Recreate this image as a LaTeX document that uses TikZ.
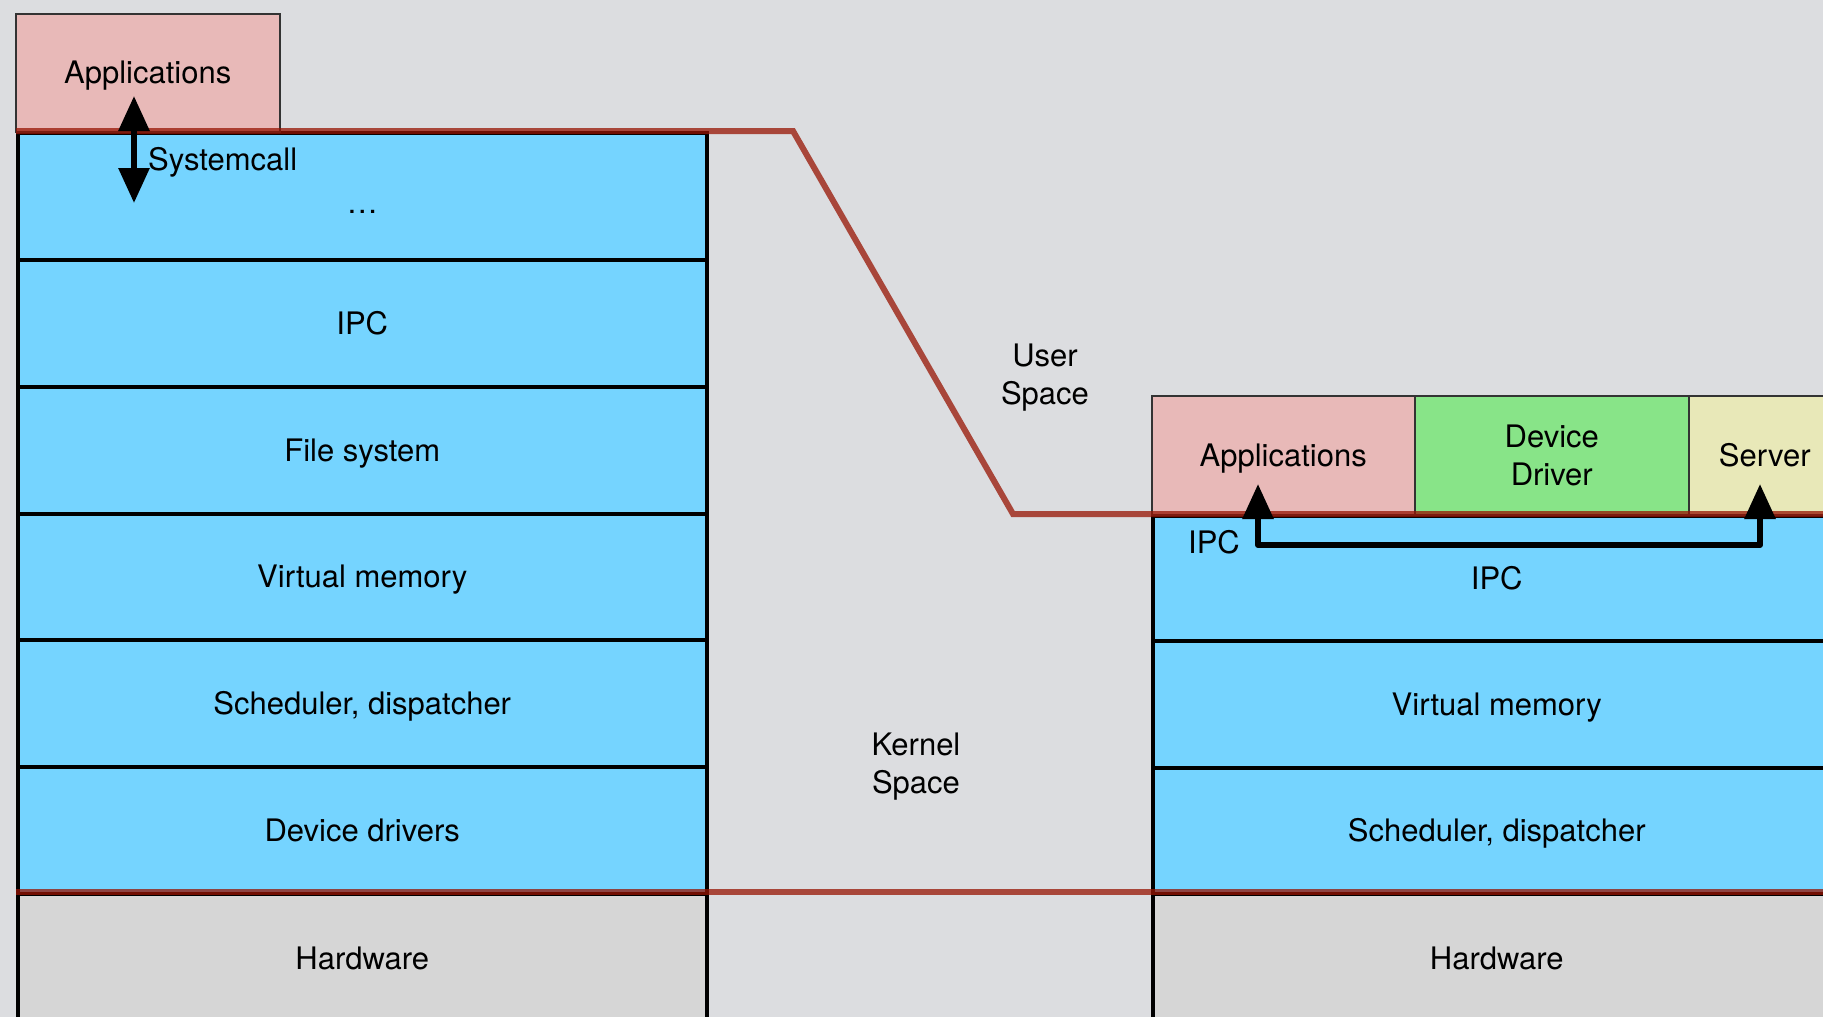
\documentclass[tikz,border=0pt]{standalone}
\usepackage{fontspec}
\setmainfont{TeX Gyre Heros}
\usetikzlibrary{arrows.meta,calc}
\definecolor{bg}{RGB}{220,221,224}
\definecolor{layer}{RGB}{117,212,255}
\definecolor{appc}{RGB}{232,185,184}
\definecolor{drvc}{RGB}{136,228,136}
\definecolor{srvc}{RGB}{232,232,184}
\definecolor{hwc}{RGB}{214,214,214}
\definecolor{boundary}{RGB}{151,20,3}
\begin{document}
\begin{tikzpicture}[x=1pt,y=-1pt,
  font=\fontsize{31}{38}\selectfont,
  oneline/.style={text height=22pt,text depth=0pt},
  layerbox/.style={draw=black,line width=3.5pt,fill=layer,inner sep=0pt,anchor=north west,oneline},
  hwbox/.style={draw=black,line width=3.5pt,fill=hwc,inner sep=0pt,anchor=north west},
  topbox/.style={draw=black!80,line width=1.5pt,inner sep=0pt,anchor=north west,align=center},
  boundaryline/.style={draw=boundary,line width=6pt,opacity=0.75,line join=miter},
  bigarrow/.style={line width=6pt,{Triangle[length=35pt,width=30pt]}-{Triangle[length=35pt,width=30pt]}},
  lbl/.style={inner sep=0pt,align=center}
]
\useasboundingbox (0,0) rectangle (1823,1017);
\clip (0,0) rectangle (1823,1017);
\fill[bg] (0,0) rectangle (1823,1017);

% left monolithic stack
\node[hwbox,minimum width=689pt,minimum height=150pt] (Lhw) at (16,892) {};
\node[lbl,oneline] at ($(Lhw.north)+(0,66)$) {Hardware};
\node[layerbox,minimum width=689pt,minimum height=127pt] (Ldev) at (16,765) {Device drivers};
\node[layerbox,minimum width=689pt,minimum height=127pt] (Lsch) at (16,638) {Scheduler, dispatcher};
\node[layerbox,minimum width=689pt,minimum height=126pt] (Lvm) at (16,512) {Virtual memory};
\node[layerbox,minimum width=689pt,minimum height=127pt] (Lfs) at (16,385) {File system};
\node[layerbox,minimum width=689pt,minimum height=127pt] (Lipc) at (16,258) {IPC};
\node[layerbox,minimum width=689pt,minimum height=127pt] (Ltop) at (16,131) {};
\node[lbl] (dots) at ($(Ltop.center)+(0,16)$) {\dots};
\node[topbox,oneline,fill=appc,minimum width=264pt,minimum height=118pt] (Lapp) at (15,13) {Applications};

% right microkernel stack
\node[hwbox,minimum width=688pt,minimum height=150pt] (Rhw) at (1151,892) {};
\node[lbl,oneline] at ($(Rhw.north)+(0,66)$) {Hardware};
\node[layerbox,minimum width=688pt,minimum height=126pt] (Rsch) at (1151,766) {Scheduler, dispatcher};
\node[layerbox,minimum width=688pt,minimum height=127pt] (Rvm) at (1151,639) {Virtual memory};
\node[layerbox,minimum width=688pt,minimum height=125pt] (Ripc) at (1151,514) {IPC};
\node[topbox,oneline,fill=appc,minimum width=263pt,minimum height=119pt] (Rapp) at (1151,395) {Applications};
\node[topbox,fill=drvc,minimum width=274pt,minimum height=119pt] (Rdrv) at (1414,395) {Device\\Driver};
\node[topbox,oneline,fill=srvc,minimum width=152pt,minimum height=119pt] (Rsrv) at (1688,395) {Server};

% user / kernel boundary
\draw[boundaryline] (16,131) -- (793,131) -- (1013,514) -- (1835,514);
\draw[boundaryline] (16,892) -- (1835,892);

% labels
\node[lbl] (user) at (1045,378) {User\\Space};
\node[lbl] (kernel) at (916,767) {Kernel\\Space};
\node[lbl,oneline,anchor=west] (sysl) at (148,159) {Systemcall};
\node[lbl,oneline] (ipcl) at (1214,542) {IPC};

% system call arrow
\coordinate (sysA) at (134,96);
\coordinate (sysB) at (134,203);
\draw[bigarrow] (sysA) -- (sysB);

% IPC arrow
\coordinate (ipcA) at (1258,484);
\coordinate (ipcB) at (1760,484);
\coordinate (ipcLine) at (1500,545);
\draw[bigarrow,line join=round] (ipcA) -- (ipcA |- ipcLine) -- (ipcB |- ipcLine) -- (ipcB);
\end{tikzpicture}
\end{document}
